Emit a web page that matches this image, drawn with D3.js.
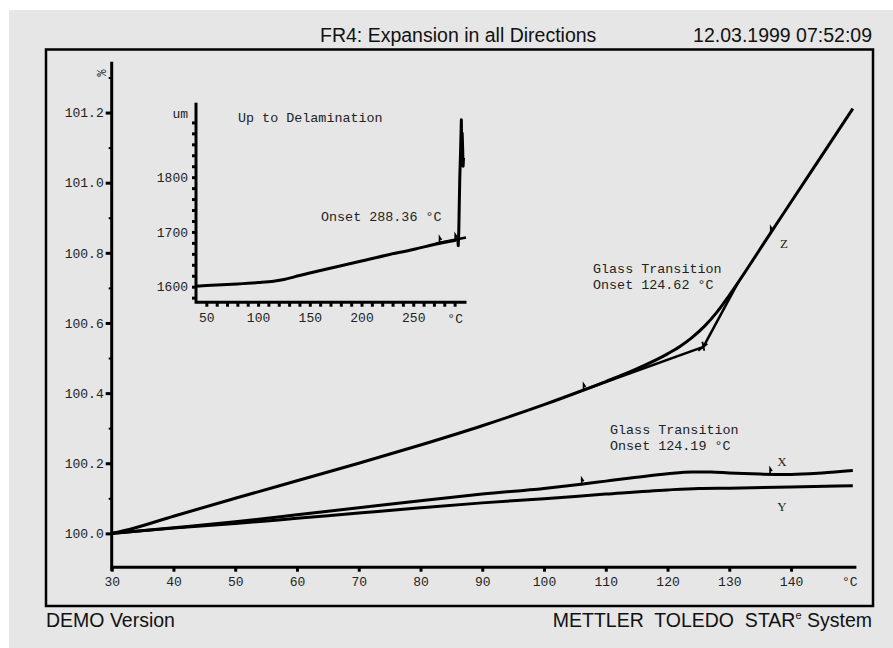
<!DOCTYPE html>
<html>
<head>
<meta charset="utf-8">
<script src="https://cdn.jsdelivr.net/npm/d3@7"></script>
<style>
  html, body { margin: 0; padding: 0; background: #ffffff; }
  svg { display: block; }
  .mono { font-family: "Liberation Mono", "DejaVu Sans Mono", monospace; }
  .sans { font-family: "Liberation Sans", Arial, sans-serif; }
</style>
</head>
<body>
<svg id="chart" width="893" height="648"></svg>
<script>
// ---- Data: thermal expansion of FR4 (relative length, %) ----
const mainXTicks = [30, 40, 50, 60, 70, 80, 90, 100, 110, 120, 130, 140];
const mainYTicks = [100.0, 100.2, 100.4, 100.6, 100.8, 101.0, 101.2];
const mainYMinor = [100.1, 100.3, 100.5, 100.7, 100.9, 101.1, 101.3];

// Z direction (through thickness)
const zTemp  = [30, 33, 40, 50, 60, 70, 80, 90, 100, 106, 110, 115, 120, 122, 124, 126, 128, 130, 136.7, 140, 145, 150];
const zValue = [100.000, 100.012, 100.049, 100.100, 100.150, 100.200, 100.252, 100.307, 100.367, 100.406, 100.433, 100.469, 100.512, 100.533, 100.559, 100.591, 100.631, 100.679, 100.857, 100.945, 101.078, 101.211];

// X direction (in plane)
const xTemp  = [30, 40, 50, 60, 70, 80, 90, 100, 106, 110, 115, 120, 124, 127, 130, 135, 140, 145, 150];
const xValue = [100.000, 100.016, 100.033, 100.053, 100.073, 100.093, 100.112, 100.128, 100.140, 100.149, 100.160, 100.170, 100.175, 100.175, 100.172, 100.169, 100.168, 100.172, 100.179];

// Y direction (in plane)
const yTemp  = [30, 40, 50, 60, 70, 80, 90, 100, 110, 120, 125, 130, 140, 150];
const yValue = [100.000, 100.015, 100.028, 100.043, 100.058, 100.073, 100.087, 100.099, 100.112, 100.124, 100.128, 100.129, 100.132, 100.136];

// Glass transition evaluation on Z: baseline tangent and step tangent
const zTangentLow  = [[106.4, 100.409], [125.8, 100.532]];
const zTangentHigh = [[125.8, 100.532], [131.5, 100.718]];
const zMarkers = [[106.4, 100.409], [136.7, 100.857]];
const zOnset = [125.8, 100.532];
const xMarkers = [[106.1, 100.140], [136.6, 100.169]];

// ---- Inset: Z-length up to delamination (um) ----
const insetXTicks = [50, 100, 150, 200, 250];
const insetXMinor = [50, 60, 70, 80, 90, 100, 110, 120, 130, 140, 150, 160, 170, 180, 190, 200, 210, 220, 230, 240, 250, 260, 270, 280, 290];
const insetYTicks = [1600, 1700, 1800];
const insetYMinor = [1580, 1600, 1620, 1640, 1660, 1680, 1700, 1720, 1740, 1760, 1780, 1800, 1820, 1840, 1860, 1880, 1900];
// smooth expansion part
const insetTemp  = [40, 60, 80, 100, 115, 125, 135, 150, 175, 200, 225, 250, 275, 286, 291.5];
const insetLen   = [1601, 1603, 1605, 1607.5, 1610, 1613, 1618, 1625, 1636, 1647, 1658, 1668, 1679, 1683, 1685];
// delamination spike
const spikeTemp = [291.5, 293, 293.5, 294, 294.5, 295, 295.8, 296.5, 297, 297.3, 297.8, 298.2, 298.6];
const spikeLen  = [1685, 1689, 1675, 1700, 1750, 1800, 1850, 1905, 1840, 1880, 1850, 1820, 1835];
const insetTangent = [[272, 1679], [301, 1690]];
const insetMarkers = [[275.4, 1680], [290.5, 1685]];

// ---- Drawing ----
const svg = d3.select("#chart");
const ink = "#000";
const textInk = "#222";

svg.append("rect").attr("x", 9).attr("y", 10).attr("width", 884).attr("height", 638).attr("fill", "#e6e6e6");
svg.append("rect").attr("x", 46).attr("y", 49.5).attr("width", 827).attr("height", 556.5)
  .attr("fill", "none").attr("stroke", ink).attr("stroke-width", 2.5);

// Header and footer
svg.append("text").attr("class", "sans").attr("x", 320).attr("y", 42)
  .attr("font-size", 19.5).attr("fill", "#111").text("FR4: Expansion in all Directions");
svg.append("text").attr("class", "sans").attr("x", 872).attr("y", 42).attr("text-anchor", "end")
  .attr("font-size", 19.5).attr("fill", "#111").text("12.03.1999 07:52:09");
svg.append("text").attr("class", "sans").attr("x", 46).attr("y", 627)
  .attr("font-size", 19.5).attr("fill", "#111").text("DEMO Version");
const brand = svg.append("text").attr("class", "sans").attr("x", 872).attr("y", 627)
  .attr("text-anchor", "end").attr("font-size", 19.5).attr("fill", "#111")
  .style("white-space", "pre");
brand.append("tspan").text("METTLER  TOLEDO  STAR");
brand.append("tspan").attr("font-size", 11).attr("dy", -8).text("e");
brand.append("tspan").attr("dy", 8).text(" System");

// Main scales
const x = d3.scaleLinear().domain([30, 150.5]).range([111.7, 855.9]);
const y = d3.scaleLinear().domain([99.905, 101.345]).range([566.7, 61.7]);

// Y axis
const gy = svg.append("g").attr("transform", `translate(${x(30)},0)`)
  .call(d3.axisLeft(y).tickValues(mainYTicks).tickFormat(d3.format(".1f")).tickSize(6).tickSizeOuter(0).tickPadding(2));
gy.select(".domain").attr("stroke-width", 3).attr("d", `M0,${y.range()[1]}V${y.range()[0] + 4}`);
gy.selectAll(".tick line").attr("stroke-width", 3);
gy.selectAll(".tick text").attr("class", "mono").attr("font-size", 13).attr("fill", textInk);
svg.append("g").attr("transform", `translate(${x(30)},0)`)
  .call(d3.axisLeft(y).tickValues(mainYMinor).tickSize(3).tickFormat(""))
  .call(g => g.select(".domain").remove())
  .selectAll(".tick line").attr("stroke-width", 2);
svg.append("text").attr("class", "mono").attr("font-size", 12).attr("fill", textInk)
  .attr("transform", `translate(97,73) rotate(90)`).attr("text-anchor", "middle").text("%");

// X axis
const gx = svg.append("g").attr("transform", `translate(0,${y(99.905)})`)
  .call(d3.axisBottom(x).tickValues(mainXTicks).tickFormat(d3.format("d")).tickSize(5).tickSizeOuter(0).tickPadding(5));
gx.select(".domain").attr("stroke-width", 3);
gx.selectAll(".tick line").attr("stroke-width", 3);
gx.selectAll(".tick text").attr("class", "mono").attr("font-size", 13).attr("fill", textInk);
svg.append("text").attr("class", "mono").attr("font-size", 13).attr("fill", textInk)
  .attr("x", x(149.5)).attr("y", 586).attr("text-anchor", "middle").text("°C");

// Curves
const line = d3.line().x(d => x(d[0])).y(d => y(d[1])).curve(d3.curveMonotoneX);
const straight = d3.line().x(d => x(d[0])).y(d => y(d[1]));
function drawCurve(ts, vs) {
  svg.append("path").datum(ts.map((t, i) => [t, vs[i]])).attr("d", line)
    .attr("fill", "none").attr("stroke", ink).attr("stroke-width", 3).attr("stroke-linejoin", "round");
}
drawCurve(yTemp, yValue);
drawCurve(xTemp, xValue);
drawCurve(zTemp, zValue);
[zTangentLow, zTangentHigh].forEach(seg => {
  svg.append("path").datum(seg).attr("d", straight).attr("fill", "none")
    .attr("stroke", ink).attr("stroke-width", 2.5);
});

// Evaluation limit markers
function marker(px, py) {
  svg.append("path").attr("d", `M${px},${py + 1}V${py - 6}L${px + 2},${py - 3}`)
    .attr("fill", "none").attr("stroke", ink).attr("stroke-width", 1.6);
}
zMarkers.concat(xMarkers).forEach(d => marker(x(d[0]), y(d[1])));
svg.append("path")
  .attr("d", `M${x(zOnset[0]) - 5},${y(zOnset[1]) + 4}L${x(zOnset[0]) + 4},${y(zOnset[1]) - 3}M${x(zOnset[0]) - 1},${y(zOnset[1]) - 5}L${x(zOnset[0]) + 1},${y(zOnset[1]) + 4}`)
  .attr("fill", "none").attr("stroke", ink).attr("stroke-width", 1.8);

// Curve labels and annotations
const serif = "Liberation Serif, 'DejaVu Serif', serif";
[["Z", 784, 248], ["X", 782, 466], ["Y", 782, 511]].forEach(([t, lx, ly]) => {
  svg.append("text").attr("x", lx).attr("y", ly).attr("font-family", serif)
    .attr("font-size", 13).attr("fill", textInk).attr("text-anchor", "middle").text(t);
});
function note(lines, nx, ny) {
  lines.forEach((t, i) => svg.append("text").attr("class", "mono").attr("font-size", 13.4)
    .attr("fill", textInk).attr("x", nx).attr("y", ny + i * 16).text(t));
}
note(["Glass Transition", "Onset 124.62 °C"], 593, 273);
note(["Glass Transition", "Onset 124.19 °C"], 610, 434);

// ---- Inset ----
const ix = d3.scaleLinear().domain([40, 301]).range([196, 466]);
const iy = d3.scaleLinear().domain([1572.6, 1936]).range([301.7, 102.7]);

const igy = svg.append("g").attr("transform", `translate(196,0)`)
  .call(d3.axisLeft(iy).tickValues(insetYMinor).tickSize(4).tickSizeOuter(0).tickPadding(4)
    .tickFormat(d => insetYTicks.includes(d) ? d : ""));
igy.select(".domain").attr("stroke-width", 3).attr("d", `M0,${iy.range()[1]}V${iy.range()[0] + 2}`);
igy.selectAll(".tick line").attr("stroke-width", 3);
igy.selectAll(".tick text").attr("class", "mono").attr("font-size", 13).attr("fill", textInk);
svg.append("text").attr("class", "mono").attr("font-size", 13).attr("fill", textInk)
  .attr("x", 188).attr("y", 118).attr("text-anchor", "end").text("um");

const igx = svg.append("g").attr("transform", `translate(0,301.7)`)
  .call(d3.axisBottom(ix).tickValues(insetXMinor).tickSize(5).tickSizeOuter(0).tickPadding(6)
    .tickFormat(d => insetXTicks.includes(d) ? d : ""));
igx.select(".domain").attr("stroke-width", 3);
igx.selectAll(".tick line").attr("stroke-width", 3);
igx.selectAll(".tick text").attr("class", "mono").attr("font-size", 13).attr("fill", textInk);
svg.append("text").attr("class", "mono").attr("font-size", 13).attr("fill", textInk)
  .attr("x", ix(290.5)).attr("y", 323).attr("text-anchor", "middle").text("°C");

const iSmooth = d3.line().x(d => ix(d[0])).y(d => iy(d[1])).curve(d3.curveMonotoneX);
const iStraight = d3.line().x(d => ix(d[0])).y(d => iy(d[1]));
svg.append("path").datum(insetTemp.map((t, i) => [t, insetLen[i]]))
  .attr("d", iSmooth).attr("fill", "none")
  .attr("stroke", ink).attr("stroke-width", 3).attr("stroke-linejoin", "round");
svg.append("path").datum(spikeTemp.map((t, i) => [t, spikeLen[i]]))
  .attr("d", iStraight).attr("fill", "none")
  .attr("stroke", ink).attr("stroke-width", 3).attr("stroke-linejoin", "round");
svg.append("path").datum(insetTangent).attr("d", iStraight)
  .attr("fill", "none").attr("stroke", ink).attr("stroke-width", 2.5);
insetMarkers.forEach(d => marker(ix(d[0]), iy(d[1])));

svg.append("text").attr("class", "mono").attr("font-size", 13.4).attr("fill", textInk)
  .attr("x", 238).attr("y", 122).text("Up to Delamination");
svg.append("text").attr("class", "mono").attr("font-size", 13.4).attr("fill", textInk)
  .attr("x", 321).attr("y", 221).text("Onset 288.36 °C");
</script>
</body>
</html>
